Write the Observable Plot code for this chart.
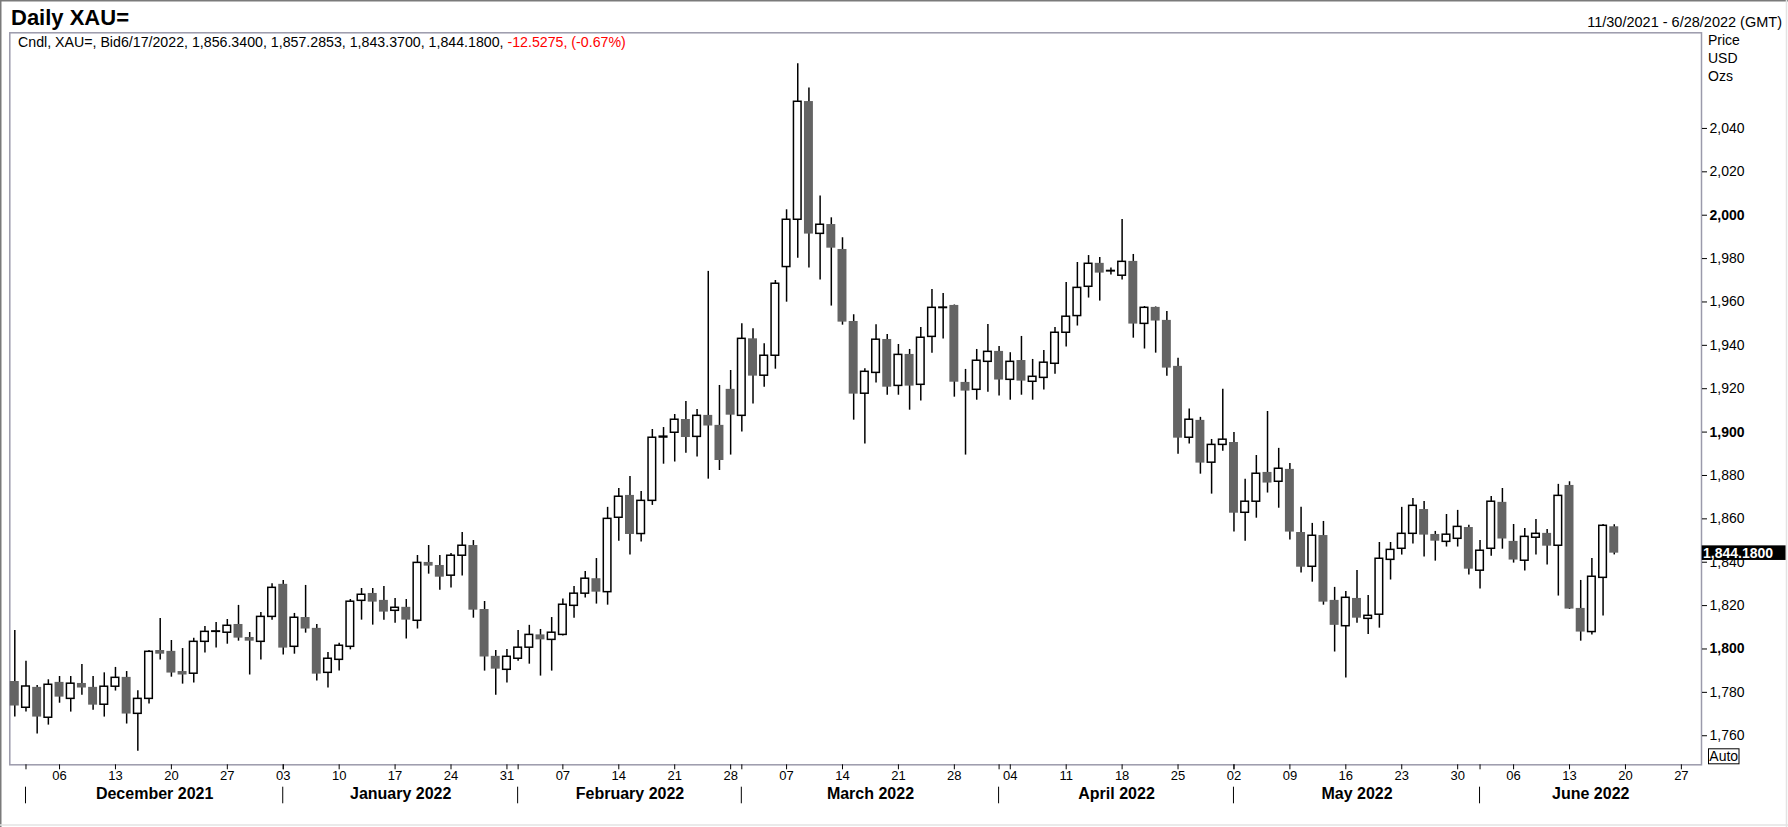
<!DOCTYPE html>
<html><head><meta charset="utf-8">
<script src="https://cdn.jsdelivr.net/npm/d3@7"></script>
<script src="https://cdn.jsdelivr.net/npm/@observablehq/plot@0.6"></script>
<style>html,body{margin:0;padding:0;background:#fff;overflow:hidden} svg{display:block}</style>
</head><body><div id="chart"></div>
<script>
// ---- data (daily candles, weekdays from 2021-11-30) ----
const firstDay = "2021-11-30";
const open = [1785.0,1772.9,1782.3,1768.3,1784.6,1777.0,1784.1,1782.3,1774.3,1782.6,
1786.9,1770.1,1777.0,1799.3,1798.9,1789.6,1788.6,1803.3,1807.9,1807.5,
1811.3,1805.3,1803.3,1814.8,1829.8,1801.0,1814.5,1809.5,1789.0,1795.0,
1801.0,1822.2,1825.6,1822.4,1817.6,1819.2,1813.0,1839.9,1838.5,1833.8,
1843.0,1847.7,1818.2,1796.6,1790.4,1795.5,1800.6,1806.5,1804.2,1806.5,
1819.9,1825.5,1832.4,1826.2,1860.5,1870.8,1853.0,1868.3,1897.5,1899.7,
1905.8,1897.8,1907.7,1903.1,1919.7,1907.5,1943.0,1926.0,1935.2,1976.1,
1997.9,2052.4,1991.4,1995.7,1984.2,1951.0,1917.7,1927.3,1942.7,1921.3,
1935.8,1921.8,1943.9,1957.2,1958.4,1922.9,1919.5,1932.4,1937.2,1924.1,
1933.0,1923.2,1925.0,1931.5,1945.8,1953.5,1967.0,1977.8,1974.1,1972.1,
1978.7,1949.9,1957.5,1951.5,1930.3,1897.4,1905.4,1885.9,1894.1,1895.2,
1862.8,1867.9,1881.4,1877.1,1882.8,1853.7,1837.9,1852.3,1822.4,1810.5,
1823.3,1813.9,1815.8,1841.1,1846.2,1853.1,1864.3,1852.8,1849.4,1850.8,
1856.0,1836.1,1846.2,1867.6,1849.6,1840.7,1851.3,1853.3,1847.6,1875.4,
1818.7,1807.8,1832.8,1856.34];
const high = [1808.5,1794.3,1783.2,1785.8,1787.3,1787.3,1792.9,1787.3,1789.0,1791.5,
1789.6,1780.7,1799.3,1814.1,1803.9,1800.2,1804.9,1810.4,1812.2,1813.6,
1820.1,1807.6,1816.8,1830.1,1831.6,1816.4,1829.3,1811.3,1798.4,1802.6,
1822.8,1827.9,1827.9,1828.8,1823.3,1822.8,1843.1,1847.7,1843.1,1844.0,
1853.7,1850.0,1821.9,1799.3,1799.8,1808.5,1810.9,1809.0,1814.5,1823.1,
1828.8,1835.7,1841.7,1865.3,1874.0,1879.5,1872.6,1901.2,1902.1,1908.1,
1914.1,1910.4,1974.1,1921.5,1928.4,1949.9,1947.6,1940.7,1969.9,2002.5,
2069.8,2058.7,2008.9,1998.8,1989.6,1954.1,1929.2,1949.5,1945.0,1940.4,
1938.1,1948.2,1965.8,1963.9,1958.6,1928.9,1938.1,1949.6,1939.5,1936.6,
1944.1,1933.5,1937.6,1948.2,1969.0,1978.2,1981.4,1980.5,1975.6,1998.0,
1981.9,1957.9,1957.7,1955.6,1934.0,1910.7,1906.8,1896.6,1919.7,1899.8,
1878.2,1889.2,1909.5,1892.5,1885.5,1865.3,1857.9,1858.8,1828.4,1826.5,
1836.2,1824.7,1849.1,1849.1,1865.3,1869.4,1868.0,1854.2,1862.0,1863.9,
1857.0,1850.0,1870.3,1874.0,1857.4,1855.6,1859.7,1855.1,1875.9,1877.1,
1831.6,1841.7,1857.4,1857.29];
const low = [1768.6,1770.9,1760.8,1764.9,1775.0,1770.9,1778.7,1771.8,1768.6,1780.6,
1765.4,1752.9,1774.6,1794.9,1787.0,1783.8,1784.3,1798.1,1800.4,1802.2,
1803.6,1788.0,1794.9,1813.3,1797.2,1797.6,1807.3,1785.2,1782.0,1789.8,
1799.6,1813.3,1811.0,1813.3,1811.9,1804.6,1809.2,1834.5,1827.1,1828.1,
1833.6,1814.2,1789.8,1778.7,1784.3,1794.4,1793.0,1787.5,1789.8,1806.0,
1814.2,1823.5,1820.7,1820.2,1849.7,1843.3,1849.3,1866.2,1885.2,1886.2,
1890.3,1888.5,1878.3,1882.3,1889.4,1900.0,1912.9,1920.7,1929.0,1959.9,
1980.2,1975.6,1970.1,1958.1,1949.3,1905.5,1894.5,1922.6,1917.0,1917.0,
1910.1,1914.3,1936.4,1942.9,1916.1,1889.4,1914.7,1918.4,1916.6,1914.7,
1917.0,1914.7,1919.4,1926.7,1939.2,1948.9,1961.8,1960.4,1972.4,1970.1,
1943.3,1938.3,1936.4,1925.8,1889.8,1894.5,1880.6,1871.4,1891.2,1853.9,
1849.7,1860.3,1871.9,1864.9,1850.2,1835.0,1830.8,1820.2,1798.6,1786.6,
1811.9,1806.7,1809.6,1831.8,1843.3,1848.4,1842.4,1840.5,1847.0,1847.0,
1834.1,1827.6,1842.8,1846.0,1839.6,1835.9,1843.3,1838.7,1824.4,1818.2,
1803.6,1806.5,1815.2,1843.37];
const close = [1773.7,1782.7,1768.6,1783.5,1777.8,1784.0,1782.0,1774.1,1782.6,1786.7,
1770.0,1777.0,1798.7,1797.6,1788.9,1788.0,1803.3,1807.9,1808.1,1810.7,
1805.0,1803.6,1814.8,1828.2,1800.4,1814.4,1809.2,1788.4,1795.5,1801.5,
1821.8,1825.0,1821.6,1817.0,1819.0,1813.3,1839.7,1838.2,1833.1,1843.0,
1847.6,1817.9,1796.3,1790.7,1796.4,1800.6,1806.5,1804.2,1807.5,1820.4,
1825.5,1832.4,1826.2,1860.0,1870.2,1852.8,1868.3,1897.4,1897.9,1905.7,
1897.5,1907.5,1902.8,1886.9,1907.8,1943.0,1925.8,1935.2,1968.4,1997.9,
2052.3,1991.3,1995.6,1984.8,1950.7,1917.5,1927.8,1942.6,1920.7,1935.6,
1921.2,1943.5,1957.3,1957.4,1923.0,1918.9,1932.9,1937.0,1924.0,1932.4,
1923.5,1925.5,1932.0,1945.8,1953.2,1966.5,1977.6,1973.3,1974.3,1978.5,
1949.8,1957.3,1951.2,1929.5,1897.2,1905.7,1885.7,1894.1,1896.5,1862.6,
1867.9,1880.8,1876.5,1883.1,1853.9,1837.7,1852.2,1821.6,1810.9,1823.6,
1814.2,1815.3,1841.6,1845.7,1853.1,1866.0,1852.5,1849.7,1852.7,1856.3,
1836.8,1845.3,1867.9,1850.7,1841.0,1851.7,1853.1,1847.4,1870.6,1818.4,
1807.8,1833.3,1856.8,1844.18];

const yTicks = [1760,1780,1800,1820,1840,1860,1880,1900,1920,1940,1960,1980,2000,2020,2040];
const boldTicks = [1800,1900,2000];
const titleText = "Daily XAU=";
const headerText = "Cndl, XAU=, Bid6/17/2022, 1,856.3400, 1,857.2853, 1,843.3700, 1,844.1800, ";
const headerChange = "-12.5275, (-0.67%)";
const rangeText = "11/30/2021 - 6/28/2022 (GMT)";
const unitLabels = ["Price", "USD", "Ozs"];
const lastPriceLabel = "1,844.1800";
const autoLabel = "Auto";

// ---- build ----
const FONT = "'Liberation Sans', Arial, Helvetica, sans-serif";
const W = 1788, H = 827;
const xMin = -0.447, xMax = 150.8;
const calendar = d3.utcDay.range(new Date(firstDay + "T00:00:00Z"), new Date("2022-07-01T00:00:00Z"))
  .filter(d => d.getUTCDay() !== 0 && d.getUTCDay() !== 6);
const candles = open.map((o, i) => ({i, open: o, high: high[i], low: low[i], close: close[i]}));
const bull = candles.filter(d => d.close >= d.open);
const bear = candles.filter(d => d.close < d.open);
const idx = d3.range(calendar.length).filter(i => i <= xMax);
const mondays = idx.filter(i => calendar[i].getUTCDay() === 1);
const monthStarts = idx.filter(i => i > 0 && calendar[i].getUTCMonth() !== calendar[i - 1].getUTCMonth());
const months = monthStarts.map((s, k) => ({
  mid: (s + (k + 1 < monthStarts.length ? monthStarts[k + 1] : xMax)) / 2,
  label: d3.utcFormat("%B %Y")(calendar[s])
}));
const dayFmt = d3.utcFormat("%d");

const plot = Plot.plot({
  width: W, height: H,
  marginLeft: 9.3, marginRight: 87, marginTop: 32.3, marginBottom: 62.7,
  style: {fontFamily: FONT, background: "white", color: "black", overflow: "visible"},
  x: {domain: [xMin, xMax], label: null},
  y: {domain: [1746.6, 2084.1], label: null},
  marks: [
    Plot.frame({stroke: "#9b9aab", strokeWidth: 1.5}),
    Plot.ruleX(candles, {x: "i", y1: "low", y2: "high", stroke: "black", strokeWidth: 1.5}),
    Plot.rect(bear, {x1: d => d.i - 0.4, x2: d => d.i + 0.4, y1: "open", y2: "close", fill: "#646464"}),
    Plot.rect(bull, {x1: d => d.i - 0.34, x2: d => d.i + 0.34, y1: "open", y2: "close", fill: "white", stroke: "black", strokeWidth: 1.5}),
    Plot.axisY(yTicks.filter(t => !boldTicks.includes(t)), {anchor: "right", tickSize: 5, tickPadding: 3, tickFormat: d3.format(","), fontSize: 14, label: null}),
    Plot.axisY(boldTicks, {anchor: "right", tickSize: 5, tickPadding: 3, tickFormat: d3.format(","), fontSize: 14, fontWeight: "bold", label: null}),
    Plot.axisX(mondays, {anchor: "bottom", tickSize: 5, tickPadding: 1, tickFormat: i => dayFmt(calendar[i]), fontSize: 13, label: null}),
    Plot.axisX(monthStarts, {anchor: "bottom", tickSize: 5, tickFormat: () => "", label: null}),
    Plot.text(months, {x: "mid", text: "label", frameAnchor: "bottom", lineAnchor: "middle", dy: 29, fontSize: 16, fontWeight: "bold"})
  ]
});
document.getElementById("chart").appendChild(plot);

const svg = d3.select(plot);
const xs = plot.scale("x"), ys = plot.scale("y");
const frameR = W - 87, frameB = H - 62.7;

// month dividers
svg.append("g").attr("stroke", "black").attr("stroke-width", 1)
  .selectAll("line").data(monthStarts).join("line")
  .attr("x1", i => xs.apply(i)).attr("x2", i => xs.apply(i))
  .attr("y1", frameB + 22.4).attr("y2", frameB + 39);

// texts
const t = (x, y, str, opts = {}) => svg.append("text").attr("x", x).attr("y", y).attr("font-family", FONT)
    .attr("font-size", opts.size || 14).attr("fill", opts.fill || "black")
    .attr("font-weight", opts.weight || "normal").attr("text-anchor", opts.anchor || "start").text(str);
t(11, 25, titleText, {size: 22, weight: "bold"});
t(W - 6, 26.5, rangeText, {size: 14.5, anchor: "end"});
const hdr = svg.append("text").attr("x", 18).attr("y", 47).attr("font-family", FONT).attr("font-size", 14.2)
  .attr("fill", "black").attr("text-anchor", "start");
hdr.append("tspan").text(headerText);
hdr.append("tspan").attr("fill", "#ff0000").text(headerChange);
unitLabels.forEach((u, k) => t(frameR + 7, 45 + k * 18, u, {size: 14}));

// last price box
const yl = ys.apply(close[close.length - 1]);
svg.append("rect").attr("x", frameR + 0.7).attr("y", yl - 7.3).attr("width", W - 3 - frameR).attr("height", 14.6).attr("fill", "black");
t(frameR + 2, yl + 5, lastPriceLabel, {size: 14, weight: "bold", fill: "white"});

// Auto box
svg.append("rect").attr("x", frameR + 7.5).attr("y", frameB - 15.5).attr("width", 30.5).attr("height", 15).attr("fill", "white").attr("stroke", "black").attr("stroke-width", 1);
t(frameR + 22.75, frameB - 3, autoLabel, {size: 14, anchor: "middle"});

// outer border
svg.append("line").attr("x1", 0).attr("x2", W).attr("y1", 0.75).attr("y2", 0.75).attr("stroke", "#7a7a7a").attr("stroke-width", 1.5);
svg.append("line").attr("x1", 0.75).attr("x2", 0.75).attr("y1", 0).attr("y2", H).attr("stroke", "#7a7a7a").attr("stroke-width", 1.5);
svg.append("line").attr("x1", 0).attr("x2", W).attr("y1", H - 2).attr("y2", H - 2).attr("stroke", "#e3e3e3").attr("stroke-width", 1.5);
svg.append("line").attr("x1", W - 1.5).attr("x2", W - 1.5).attr("y1", 0).attr("y2", H).attr("stroke", "#e3e3e3").attr("stroke-width", 1.5);
</script>
</body></html>
